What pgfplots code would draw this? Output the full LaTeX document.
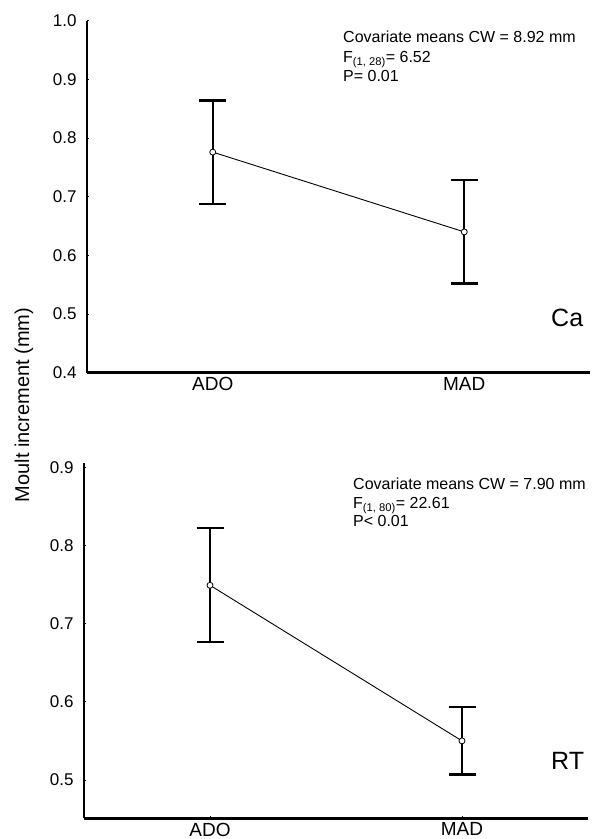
\documentclass[border=0pt]{standalone}
\usepackage{fontspec}
\setmainfont{Liberation Sans}
\usepackage{pgfplots}
\pgfplotsset{compat=1.18}

\pgfplotsset{
  moult/.style={
    scale only axis,
    axis lines*=left,
    axis line style={line width=2.6pt, black},
    xmin=-0.5, xmax=1.5,
    xtick={0,1}, xticklabels={ADO,MAD},
    major tick length=2pt,
    tick style={black, line width=0.6pt},
    tick align=inside,
    /pgf/number format/assume math mode=true,
    /pgf/number format/fixed,
    /pgf/number format/fixed zerofill,
    /pgf/number format/precision=1,
    yticklabel style={font=\fontsize{17}{20}\selectfont, xshift=-7pt},
    xticklabel style={font=\fontsize{19}{22}\selectfont, yshift=-1pt},
    clip=false,
  },
  ebar/.style={
    draw=none, mark=none,
    error bars/.cd, y dir=both, y explicit,
    error bar style={line width=2.2pt, black},
    error mark options={rotate=90, mark size=13.5pt, line width=2.2pt, black},
  },
  meanline/.style={
    black, line width=0.9pt,
    mark=*, mark size=3pt,
    mark options={fill=white, draw=black, line width=0.8pt},
  },
}

\begin{document}
\begin{tikzpicture}[x=1pt, y=1pt]

%% Ca
\begin{axis}[moult,
    at={(87pt,466.3pt)}, anchor=south west,
    width=503pt, height=352pt,
    ymin=0.4, ymax=1.0,
    ytick={0.4,0.5,0.6,0.7,0.8,0.9,1.0},
]
\addplot[ebar] coordinates {
    (0,0.776) +- (0,0.088)
    (1,0.640) +- (0,0.088)};
\addplot[meanline] coordinates {(0,0.776)(1,0.640)};
\end{axis}

%% RT
\begin{axis}[moult,
    at={(84pt,20.7pt)}, anchor=south west,
    width=504pt, height=355pt,
    ymin=0.451, ymax=0.905,
    ytick={0.5,0.6,0.7,0.8,0.9},
]
\addplot[ebar] coordinates {
    (0,0.749) +- (0,0.073)
    (1,0.550) +- (0,0.043)};
\addplot[meanline] coordinates {(0,0.749)(1,0.550)};
\end{axis}

%% annotations (base = baseline of the last line)
\node[anchor=base west, inner sep=0pt, align=left,
      font=\fontsize{16}{19.5}\selectfont] at (343,757)
  {Covariate means CW = 8.92 mm\\F\textsubscript{(1, 28)}= 6.52\\P= 0.01};
\node[anchor=base west, inner sep=0pt, font=\fontsize{25}{30}\selectfont]
  at (551,512) {Ca};

\node[anchor=base west, inner sep=0pt, align=left,
      font=\fontsize{16}{18.5}\selectfont] at (353,312)
  {Covariate means CW = 7.90 mm\\F\textsubscript{(1, 80)}= 22.61\\P< 0.01};
\node[anchor=base west, inner sep=0pt, font=\fontsize{25}{30}\selectfont]
  at (551,69) {RT};

\node[rotate=90, font=\fontsize{20}{24}\selectfont] at (24,434)
  {Moult increment (mm)};

\pgfresetboundingbox
\path[use as bounding box] (0,0) rectangle (595,839);
\end{tikzpicture}
\end{document}
